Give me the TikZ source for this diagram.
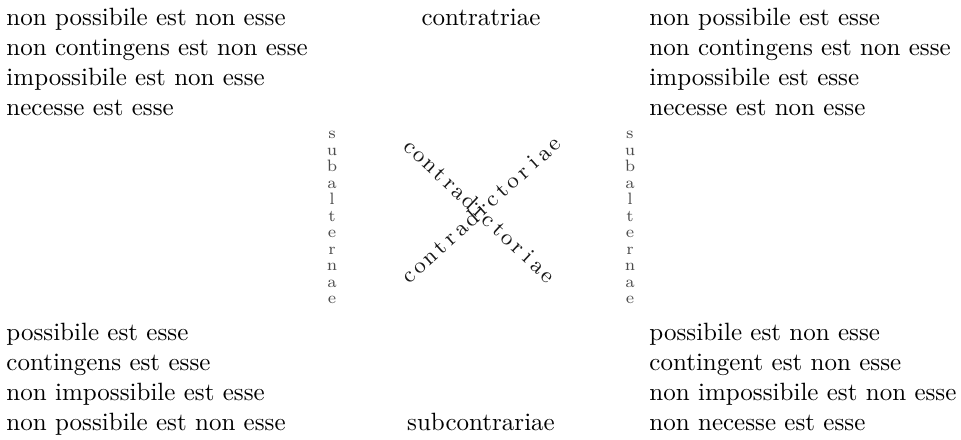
\documentclass[tikz,border=0pt]{standalone}
\usepackage{tikz}
\usetikzlibrary{calc}

\begin{document}
\begin{tikzpicture}[font=\normalsize,
  txt/.style={anchor=base west,inner sep=0pt},
  lbl/.style={anchor=base,inner sep=0pt},
  xletter/.style={anchor=base,inner sep=0pt,font=\fontsize{9}{10}\selectfont,black!90},
  vletter/.style={anchor=base,inner sep=0pt,font=\fontsize{6.6}{7}\selectfont,black!70}]
\useasboundingbox (0,0) rectangle (13.508,6.171);
% upper corners
\foreach \t [count=\i] in {non possibile est non esse,
  non contingens est non esse,
  impossibile est non esse,
  necesse est esse}
  \node[txt] (ul\i) at (0.084,{5.819-0.4217*(\i-1)}) {\t};
\foreach \t [count=\i] in {non possibile est esse,
  non contingens est non esse,
  impossibile est esse,
  necesse est non esse}
  \node[txt] (ur\i) at (9.122,{5.819-0.4217*(\i-1)}) {\t};
\node[lbl] (contra) at (6.761,5.819) {contratriae};
% lower corners
\foreach \t [count=\i] in {possibile est esse,
  contingens est esse,
  non impossibile est esse,
  non possibile est non esse}
  \node[txt] (ll\i) at (0.084,{1.392-0.4217*(\i-1)}) {\t};
\foreach \t [count=\i] in {possibile est non esse,
  contingent est non esse,
  non impossibile est non esse,
  non necesse est esse}
  \node[txt] (lr\i) at (9.122,{1.392-0.4217*(\i-1)}) {\t};
\node[lbl] (subcontra) at (6.761,0.126) {subcontrariae};
% subalternae, stacked
\foreach \l [count=\i] in {s,u,b,a,l,t,e,r,n,a,e}{
  \node[vletter] (sl\i) at (4.667,{4.224-0.2319*(\i-1)}) {\l};
  \node[vletter] (sr\i) at (8.855,{4.224-0.2319*(\i-1)}) {\l};
}
% contradictoriae, crossed
\coordinate (dA) at (5.710,4.040);
\coordinate (dB) at (7.636,2.227);
\coordinate (aA) at (5.815,2.225);
\coordinate (aB) at (7.853,4.081);
\foreach \l [count=\i, evaluate=\i as \f using (\i-1)/14] in {c,o,n,t,r,a,d,i,c,t,o,r,i,a,e}{
  \node[xletter,rotate=-43] (dn\i) at ($(dA)!\f!(dB)$) {\l};
  \node[xletter,rotate=42] (up\i) at ($(aA)!\f!(aB)$) {\l};
}
\end{tikzpicture}
\end{document}
